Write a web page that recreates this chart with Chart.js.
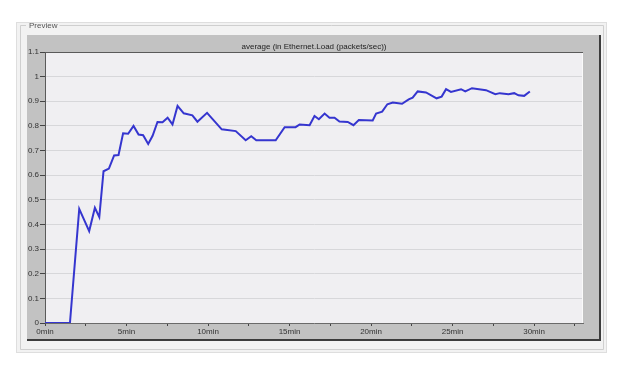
<!DOCTYPE html>
<html>
<head>
<meta charset="utf-8">
<script src="https://cdn.jsdelivr.net/npm/chart.js@4/dist/chart.umd.min.js"></script>
<style>
  html, body { margin: 0; padding: 0; background: #fff; }
  #wrap { width: 622px; height: 373px; }
</style>
</head>
<body>
<div id="wrap"><canvas id="load" width="622" height="373"></canvas></div>
<script>
// data (minutes, packets/sec)
const times = [0, 1.53, 2.10, 2.71, 3.06, 3.33, 3.59, 3.92, 4.24, 4.51, 4.79, 5.10, 5.43, 5.74, 6.02, 6.33, 6.60, 6.90, 7.21, 7.52, 7.82, 8.13, 8.51, 9.04, 9.35, 9.94, 10.84, 11.70, 12.31, 12.65, 12.96, 14.15, 14.70, 15.37, 15.62, 16.23, 16.53, 16.80, 17.15, 17.45, 17.76, 18.06, 18.57, 18.92, 19.25, 20.10, 20.31, 20.68, 21.00, 21.33, 21.90, 22.31, 22.55, 22.86, 23.37, 24.02, 24.33, 24.60, 24.90, 25.52, 25.78, 26.19, 27.05, 27.62, 27.90, 28.43, 28.78, 29.04, 29.39, 29.74];
const loads = [0, 0, 0.463, 0.373, 0.468, 0.43, 0.616, 0.627, 0.68, 0.682, 0.77, 0.768, 0.80, 0.765, 0.762, 0.727, 0.76, 0.816, 0.815, 0.833, 0.806, 0.881, 0.851, 0.843, 0.817, 0.853, 0.786, 0.779, 0.742, 0.758, 0.742, 0.742, 0.795, 0.795, 0.806, 0.803, 0.84, 0.827, 0.85, 0.833, 0.833, 0.818, 0.816, 0.803, 0.824, 0.822, 0.85, 0.858, 0.888, 0.895, 0.89, 0.908, 0.915, 0.94, 0.936, 0.912, 0.919, 0.949, 0.938, 0.949, 0.94, 0.953, 0.945, 0.929, 0.933, 0.929, 0.933, 0.924, 0.922, 0.94];
const xLabels = ["0min", "5min", "10min", "15min", "20min", "25min", "30min"];
const chartTitle = "average (in Ethernet.Load (packets/sec))";
const boxTitle = "Preview";

const points = times.map((t, i) => ({ x: t, y: loads[i] }));

// window frame, gray panel, plot background, titles
const frame = {
  id: "frame",
  beforeDraw(chart) {
    const { ctx, chartArea: { top, right, bottom, left } } = chart;
    ctx.save();
    // outer light panel
    ctx.fillStyle = "#f2f2f2";
    ctx.fillRect(16, 22, 591, 331);
    ctx.strokeStyle = "#dedede";
    ctx.lineWidth = 1;
    ctx.strokeRect(16.5, 22.5, 590, 330);
    // group box line with gap for label
    ctx.font = "8px 'Liberation Sans'";
    const tw = ctx.measureText(boxTitle).width;
    ctx.strokeStyle = "#cfcfcf";
    ctx.beginPath();
    ctx.moveTo(28 + tw + 3, 25.5);
    ctx.lineTo(603.5, 25.5);
    ctx.lineTo(603.5, 349.5);
    ctx.lineTo(20.5, 349.5);
    ctx.lineTo(20.5, 25.5);
    ctx.lineTo(26, 25.5);
    ctx.stroke();
    ctx.fillStyle = "#555";
    ctx.textBaseline = "middle";
    ctx.fillText(boxTitle, 29, 25.5);
    // gray panel
    ctx.fillStyle = "#c2c2c2";
    ctx.fillRect(27, 35, 574, 306);
    ctx.strokeStyle = "#3c3c3c";
    ctx.lineWidth = 2;
    ctx.beginPath();
    ctx.moveTo(600, 35);
    ctx.lineTo(600, 340);
    ctx.lineTo(27, 340);
    ctx.stroke();
    // plot background
    ctx.fillStyle = "#f0eff2";
    ctx.fillRect(left, top, right - left, bottom - top);
    // chart title
    ctx.fillStyle = "#222";
    ctx.textAlign = "center";
    ctx.font = "8px 'Liberation Sans'";
    ctx.fillText(chartTitle, (left + right) / 2, 46.5);
    ctx.restore();
  },
  afterDatasetsDraw(chart) {
    const { ctx, chartArea: { top, right, bottom, left } } = chart;
    ctx.save();
    ctx.lineWidth = 1;
    ctx.strokeStyle = "#fafafa";
    ctx.beginPath();
    ctx.moveTo(right - 0.5, top);
    ctx.lineTo(right - 0.5, bottom);
    ctx.stroke();
    ctx.strokeStyle = "#5a5a5a";
    ctx.beginPath();
    ctx.moveTo(left, top + 0.5);
    ctx.lineTo(right, top + 0.5);
    ctx.stroke();
    ctx.restore();
  },
};

const config = {
  type: "line",
  data: {
    datasets: [
      {
        label: chartTitle,
        data: points,
        borderColor: "#3535cf",
        borderWidth: 2,
        pointRadius: 0,
        tension: 0,
        fill: false,
      },
    ],
  },
  options: {
    responsive: false,
    animation: false,
    layout: { padding: { left: 0, top: 52, right: 39, bottom: 0 } },
    plugins: {
      legend: { display: false },
      tooltip: { enabled: false },
    },
    scales: {
      x: {
        type: "linear",
        min: 0,
        max: 33,
        afterFit(scale) { scale.height = 50; },
        grid: {
          drawOnChartArea: false,
          drawTicks: true,
          tickLength: 3,
          tickColor: "#444",
        },
        border: { display: true, color: "#6a6a6a", width: 1 },
        ticks: {
          stepSize: 2.5,
          includeBounds: false,
          autoSkip: false,
          maxRotation: 0,
          padding: 1,
          color: "#333",
          font: { family: "'Liberation Sans'", size: 8 },
          callback(v) {
            const i = Math.round(v / 5);
            return Math.abs(v - i * 5) < 0.01 ? xLabels[i] : "";
          },
        },
      },
      y: {
        min: 0,
        max: 1.1,
        afterFit(scale) { scale.width = 45; },
        grid: {
          color: "#d7d7da",
          lineWidth: 1,
          tickColor: "#444",
          tickLength: 5,
        },
        border: { display: true, color: "#5a5a5a", width: 1 },
        ticks: {
          stepSize: 0.1,
          padding: 1,
          color: "#333",
          font: { family: "'Liberation Sans'", size: 8 },
          callback(v) { return String(+v.toFixed(1)); },
        },
      },
    },
  },
  plugins: [frame],
};

const loadChart = new Chart(document.getElementById("load"), config);
</script>
</body>
</html>
